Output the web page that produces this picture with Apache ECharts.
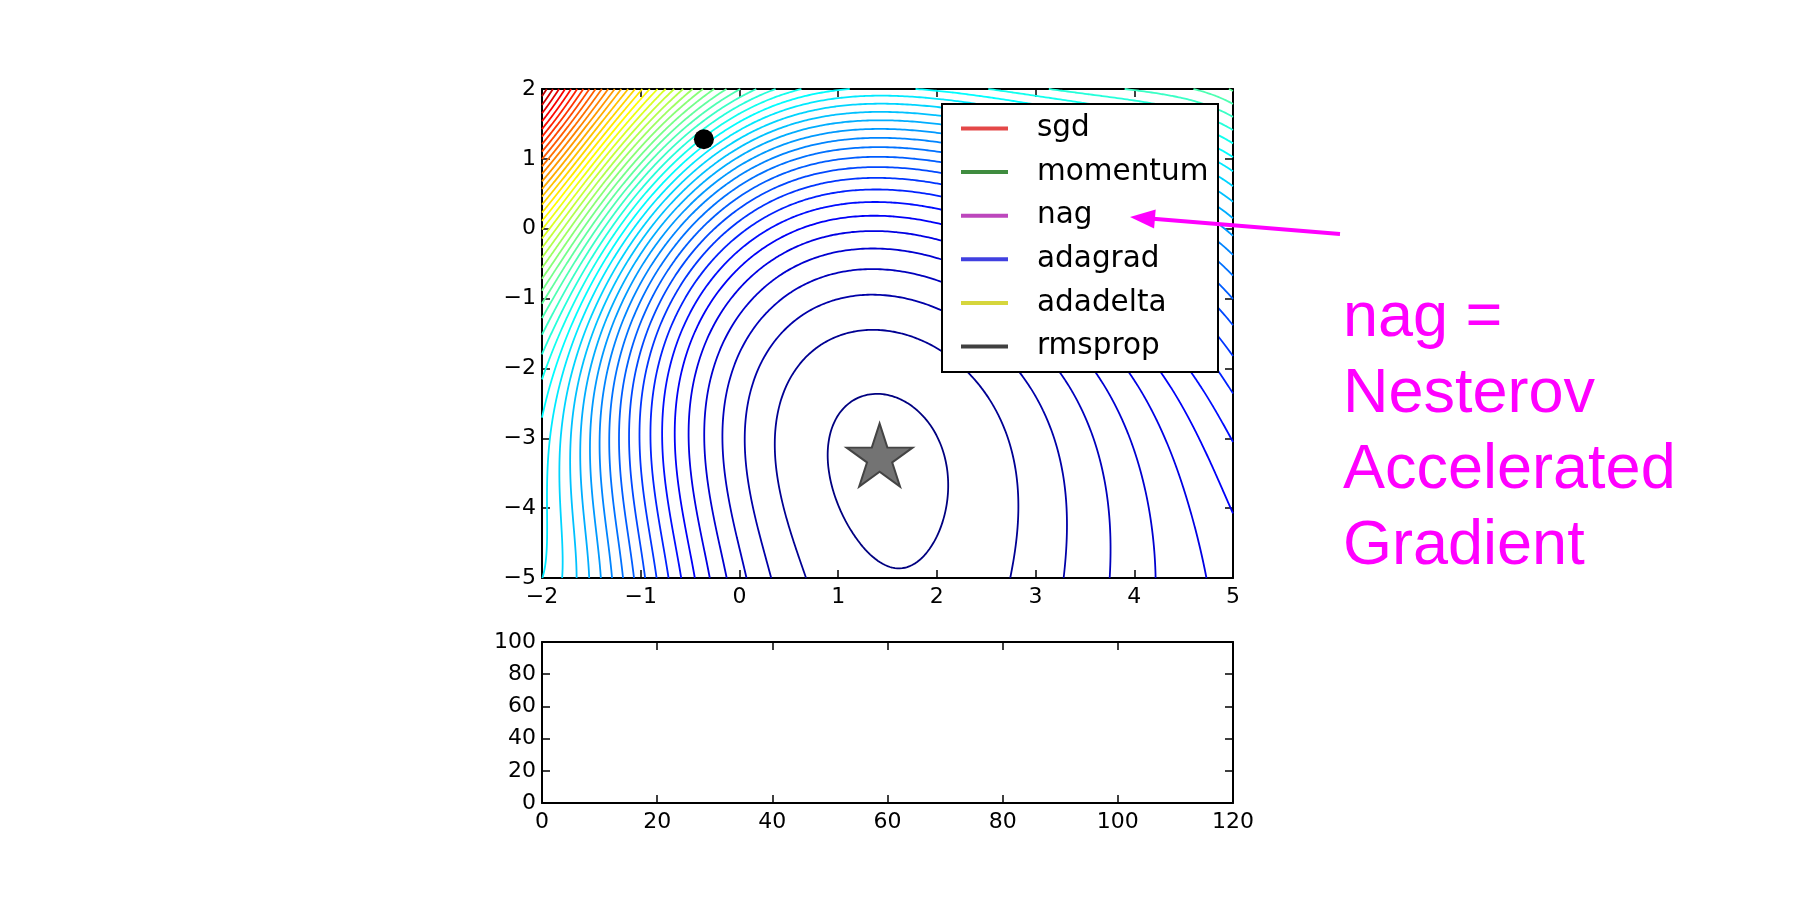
<!DOCTYPE html>
<html><head><meta charset="utf-8">
<script src="https://cdn.jsdelivr.net/npm/echarts@6/dist/echarts.min.js"></script>
<style>html,body{margin:0;padding:0;background:#fff;}#c{width:1820px;height:909px;}</style>
</head><body><div id="c"></div>
<script>
// ---------------- data ----------------
const xTicks = [-2, -1, 0, 1, 2, 3, 4, 5];
const yTicks = [-5, -4, -3, -2, -1, 0, 1, 2];
const lossXTicks = [0, 20, 40, 60, 80, 100, 120];
const lossYTicks = [0, 20, 40, 60, 80, 100];
const seriesNames = ['sgd', 'momentum', 'nag', 'adagrad', 'adadelta', 'rmsprop'];
const seriesColors = ['#e44848', '#3f8c3f', '#bd47bd', '#4040e0', '#d6d63c', '#404040'];
const startPoint = [-0.36, 1.28];
const minimumPoint = [1.42, -3.24];
const contourLevels = [1,2,3,4,5,6,7,8,9,10,11,12,13,14,15,16,17,18,19,20,21,22,23,24,25,
  26,27,28,29,30,31,32,33,34,35,36,37,38,39,40,41,42,43,44,45,46,47,48,49,50];
const annotationLines = ['nag =', 'Nesterov', 'Accelerated', 'Gradient'];

// contour crossings (x, y -> level index)
const minimumLevel = 0.5;
const ellipseLevel1 = [[0.79,-3.2],[0.92,-4.17],[1.15,-4.6],[1.55,-4.71],[2.0,-4.22],[2.07,-3.75],[1.76,-2.45],[1.3,-2.1],[0.88,-2.6]];
const rowBottomY = -5;
const rowBottomLeftX = [0.75,0.39,0.13,-0.09,-0.28,-0.47,-0.61,-0.74,-0.88,-0.99,-1.11,-1.22,-1.34,-1.44,-1.55,-1.67,-1.77,-1.87,-1.97]; // levels 2..20
const rowBottomRightX = [2.72,3.31,3.80,4.25,4.67]; // levels 2..6
const rowLowY = -4.1;
const rowLowLeftX = [0.58,0.27,0.03,-0.19,-0.37,-0.54,-0.68,-0.80,-0.93,-1.04,-1.16,-1.28,-1.39,-1.49,-1.60,-1.72,-1.82,-1.92]; // levels 2..19
const rowLowRightX = [2.73,3.28,3.74,4.18,4.59]; // levels 2..6
const rowMidY = -3.17;
const rowMidLeftX = [0.41,0.14,-0.08,-0.28,-0.45,-0.60,-0.74,-0.86,-0.98,-1.09,-1.21,-1.33,-1.43,-1.54,-1.65,-1.77,-1.87,-1.97]; // levels 2..19
const rowMidRightX = [2.74,3.25,3.68,4.11,4.51]; // levels 2..6
const rowUpperY = -2.17;
const rowUpperRightX = [2.24,2.71,3.11,3.52,3.96]; // levels 2..6
const columnX = 1.15;
const columnY = [-1.34,-0.85,-0.54,-0.30,-0.10]; // levels 2..6
const rightEdgeX = 5;
const rightEdgeY = [-4.41,-3.19,-2.45,-1.9,-1.4,-0.95,-0.63,-0.35,-0.09,0.15,0.39,0.62,0.84,1.04,1.23,1.41,1.58,1.75,1.91]; // levels 7..25
const topEdgeY = 2;
const topEdgeX = [-2,-1.8,-1.5,-1,-0.5,0,0.5,1.15,2.5,3.5,4.5];
const topEdgeLevel = [50,47,42,34,27,23.5,21.5,21,21,22,23.5];
const leftEdgeX = -2;
const leftEdgeY = [-2,-1,0,1];
const leftEdgeLevel = [22,26,32,40];
const startLevel = 22;

// ---------------- smooth surface fitted through the observations ----------------
const obs = [];
obs.push([minimumPoint[0], minimumPoint[1], minimumLevel, 6]);
ellipseLevel1.forEach(p => obs.push([p[0], p[1], 1, 6]));
rowBottomLeftX.forEach((x, i) => obs.push([x, rowBottomY, i + 2, 1]));
rowBottomRightX.forEach((x, i) => obs.push([x, rowBottomY, i + 2, 2]));
rowLowLeftX.forEach((x, i) => obs.push([x, rowLowY, i + 2, 1]));
rowLowRightX.forEach((x, i) => obs.push([x, rowLowY, i + 2, 2]));
rowMidLeftX.forEach((x, i) => obs.push([x, rowMidY, i + 2, 1]));
rowMidRightX.forEach((x, i) => obs.push([x, rowMidY, i + 2, 2]));
rowUpperRightX.forEach((x, i) => obs.push([x, rowUpperY, i + 2, 2]));
columnY.forEach((y, i) => obs.push([columnX, y, i + 2, 2]));
rightEdgeY.forEach((y, i) => obs.push([rightEdgeX, y, i + 7, 1]));
topEdgeX.forEach((x, i) => obs.push([x, topEdgeY, topEdgeLevel[i], 1]));
leftEdgeY.forEach((y, i) => obs.push([leftEdgeX, y, leftEdgeLevel[i], 1]));
obs.push([startPoint[0], startPoint[1], startLevel, 1]);

const OFFSET = 1.5;            // surface is fitted as sqrt(level + OFFSET)
const DEG = 5;
const powers = [];
for (let a = 0; a <= DEG; a++) for (let b = 0; b <= DEG - a; b++) powers.push([a, b]);
function basis(x, y) {
  const u = (x - 1.5) / 3.5, v = (y + 1.5) / 3.5;
  return powers.map(p => Math.pow(u, p[0]) * Math.pow(v, p[1]));
}
function solve(M, rhs) {
  const n = rhs.length;
  for (let c = 0; c < n; c++) {
    let p = c;
    for (let r = c + 1; r < n; r++) if (Math.abs(M[r][c]) > Math.abs(M[p][c])) p = r;
    [M[c], M[p]] = [M[p], M[c]]; [rhs[c], rhs[p]] = [rhs[p], rhs[c]];
    for (let r = c + 1; r < n; r++) {
      const f = M[r][c] / M[c][c];
      for (let k = c; k < n; k++) M[r][k] -= f * M[c][k];
      rhs[r] -= f * rhs[c];
    }
  }
  const s = new Array(n).fill(0);
  for (let r = n - 1; r >= 0; r--) {
    let acc = rhs[r];
    for (let k = r + 1; k < n; k++) acc -= M[r][k] * s[k];
    s[r] = acc / M[r][r];
  }
  return s;
}
const nB = powers.length;
const MtM = Array.from({length: nB}, () => new Array(nB).fill(0));
const Mtf = new Array(nB).fill(0);
obs.forEach(o => {
  const g = Math.sqrt(o[2] + OFFSET);
  const b = basis(o[0], o[1]), w = o[3] * 2 * g;
  for (let i = 0; i < nB; i++) { Mtf[i] += w * b[i] * g; for (let j = 0; j < nB; j++) MtM[i][j] += w * b[i] * b[j]; }
});
powers.forEach((p, i) => { const d = p[0] + p[1]; MtM[i][i] += 1e-3 * d * d; });
const coef = solve(MtM, Mtf);
function surf(x, y) { const b = basis(x, y); let s = 0; for (let i = 0; i < nB; i++) s += coef[i] * b[i]; return s * s - OFFSET; }

// ---------------- marching squares ----------------
const NX = 281, NY = 281, X0 = -2, X1 = 5, Y0 = -5, Y1 = 2;
const gx = [], gy = [];
for (let i = 0; i < NX; i++) gx.push(X0 + (X1 - X0) * i / (NX - 1));
for (let j = 0; j < NY; j++) gy.push(Y0 + (Y1 - Y0) * j / (NY - 1));
const Z = gy.map(y => gx.map(x => surf(x, y)));

function contour(L) {
  const pts = new Map(), adj = new Map();
  function ptH(i, j) { const k = 'h' + i + '_' + j; if (!pts.has(k)) { const a = Z[j][i], b = Z[j][i + 1], t = (L - a) / (b - a); pts.set(k, [gx[i] + t * (gx[i + 1] - gx[i]), gy[j]]); } return k; }
  function ptV(i, j) { const k = 'v' + i + '_' + j; if (!pts.has(k)) { const a = Z[j][i], b = Z[j + 1][i], t = (L - a) / (b - a); pts.set(k, [gx[i], gy[j] + t * (gy[j + 1] - gy[j])]); } return k; }
  function link(a, b) { if (!adj.has(a)) adj.set(a, []); if (!adj.has(b)) adj.set(b, []); adj.get(a).push(b); adj.get(b).push(a); }
  for (let j = 0; j < NY - 1; j++) for (let i = 0; i < NX - 1; i++) {
    const c0 = Z[j][i] > L, c1 = Z[j][i + 1] > L, c2 = Z[j + 1][i + 1] > L, c3 = Z[j + 1][i] > L;
    const idx = (c0 ? 1 : 0) | (c1 ? 2 : 0) | (c2 ? 4 : 0) | (c3 ? 8 : 0);
    if (idx === 0 || idx === 15) continue;
    const B = () => ptH(i, j), T = () => ptH(i, j + 1), Lf = () => ptV(i, j), R = () => ptV(i + 1, j);
    const center = (Z[j][i] + Z[j][i + 1] + Z[j + 1][i + 1] + Z[j + 1][i]) / 4 > L;
    switch (idx) {
      case 1: case 14: link(B(), Lf()); break;
      case 2: case 13: link(B(), R()); break;
      case 3: case 12: link(Lf(), R()); break;
      case 4: case 11: link(R(), T()); break;
      case 6: case 9: link(B(), T()); break;
      case 7: case 8: link(Lf(), T()); break;
      case 5: if (center) { link(B(), R()); link(T(), Lf()); } else { link(B(), Lf()); link(R(), T()); } break;
      case 10: if (center) { link(B(), Lf()); link(R(), T()); } else { link(B(), R()); link(T(), Lf()); } break;
    }
  }
  const seen = new Set(), lines = [];
  function walk(start) {
    const line = [pts.get(start)]; seen.add(start);
    let prev = null, cur = start;
    while (true) {
      const nb = adj.get(cur).filter(k => k !== prev && !seen.has(k));
      if (!nb.length) {
        if (adj.get(cur).includes(start) && cur !== start && line.length > 2) line.push(pts.get(start));
        break;
      }
      prev = cur; cur = nb[0]; seen.add(cur); line.push(pts.get(cur));
    }
    return line;
  }
  adj.forEach((v, k) => { if (v.length === 1 && !seen.has(k)) lines.push(walk(k)); });
  adj.forEach((v, k) => { if (!seen.has(k)) lines.push(walk(k)); });
  return lines;
}
function jet(t) {
  t = Math.max(0, Math.min(1, t));
  const cl = v => Math.round(255 * Math.max(0, Math.min(1, v)));
  return 'rgb(' + cl(1.5 - Math.abs(4 * t - 3)) + ',' + cl(1.5 - Math.abs(4 * t - 2)) + ',' + cl(1.5 - Math.abs(4 * t - 1)) + ')';
}
const lvlMin = contourLevels[0], lvlMax = contourLevels[contourLevels.length - 1];
const contourData = [];
contourLevels.forEach(L => {
  const col = jet((L - lvlMin) / (lvlMax - lvlMin + 2));
  contour(L).forEach(line => { if (line.length > 1) contourData.push({coords: line, lineStyle: {color: col}}); });
});

// ---------------- chart ----------------
const FONT = 'DejaVu Sans';
const minus = v => String(v).replace('-', '\u2212');
function axisCommon(extra) {
  return Object.assign({
    type: 'value',
    axisLine: {show: true, onZero: false, lineStyle: {color: '#000', width: 2}},
    axisTick: {show: true, inside: true, length: 8, lineStyle: {color: '#000', width: 1.5}},
    splitLine: {show: false},
    axisLabel: {show: true, color: '#000', fontFamily: FONT, fontSize: 22, formatter: minus}
  }, extra);
}
const noLabel = {show: false};
const chart = echarts.init(document.getElementById('c'), null, {renderer: 'canvas'});
const option = {
  animation: false,
  backgroundColor: '#fff',
  grid: [
    {left: 542, top: 89, width: 691, height: 489},
    {left: 542, top: 642, width: 691, height: 161}
  ],
  xAxis: [
    axisCommon({gridIndex: 0, min: xTicks[0], max: xTicks[xTicks.length - 1], interval: 1, position: 'bottom', axisLabel: {color: '#000', fontFamily: FONT, fontSize: 22, margin: 8, formatter: minus}}),
    axisCommon({gridIndex: 0, min: xTicks[0], max: xTicks[xTicks.length - 1], interval: 1, position: 'top', axisLabel: noLabel}),
    axisCommon({gridIndex: 1, min: lossXTicks[0], max: lossXTicks[lossXTicks.length - 1], interval: 20, position: 'bottom', axisLabel: {color: '#000', fontFamily: FONT, fontSize: 22, margin: 8}}),
    axisCommon({gridIndex: 1, min: lossXTicks[0], max: lossXTicks[lossXTicks.length - 1], interval: 20, position: 'top', axisLabel: noLabel})
  ],
  yAxis: [
    axisCommon({gridIndex: 0, min: yTicks[0], max: yTicks[yTicks.length - 1], interval: 1, position: 'left', axisLabel: {color: '#000', fontFamily: FONT, fontSize: 22, margin: 6, formatter: minus}}),
    axisCommon({gridIndex: 0, min: yTicks[0], max: yTicks[yTicks.length - 1], interval: 1, position: 'right', axisLabel: noLabel}),
    axisCommon({gridIndex: 1, min: lossYTicks[0], max: lossYTicks[lossYTicks.length - 1], interval: 20, position: 'left', axisLabel: {color: '#000', fontFamily: FONT, fontSize: 22, margin: 6}}),
    axisCommon({gridIndex: 1, min: lossYTicks[0], max: lossYTicks[lossYTicks.length - 1], interval: 20, position: 'right', axisLabel: noLabel})
  ],
  legend: {
    data: seriesNames, orient: 'vertical', left: 961, top: 113.5, padding: 0, itemGap: 13.6,
    icon: 'rect', itemWidth: 47, itemHeight: 4, z: 100, selectedMode: false,
    textStyle: {fontFamily: FONT, fontSize: 29.5, color: '#000', padding: [0, 0, 0, 24]}
  },
  graphic: [
    {type: 'rect', z: 90, shape: {x: 942, y: 104, width: 276, height: 268}, style: {fill: '#fff', stroke: '#000', lineWidth: 2}},
    {type: 'line', z: 95, shape: {x1: 1340, y1: 234, x2: 1150, y2: 218.6}, style: {stroke: '#ff00ff', lineWidth: 4}},
    {type: 'polygon', z: 95, shape: {points: [[1130, 217], [1155.7, 209.5], [1154.1, 228.5]]}, style: {fill: '#ff00ff'}},
    {type: 'text', z: 95, left: 1343, top: 281, style: {text: annotationLines.join('\n'), fill: '#ff00ff', font: '63px "Liberation Sans", Arial, sans-serif', lineHeight: 76}}
  ],
  series: [
    {type: 'lines', coordinateSystem: 'cartesian2d', xAxisIndex: 0, yAxisIndex: 0, polyline: true, silent: true, z: 2,
      lineStyle: {width: 1.8, opacity: 1}, data: contourData},
    {type: 'scatter', xAxisIndex: 0, yAxisIndex: 0, z: 10, silent: true, symbol: 'circle', symbolSize: 20,
      itemStyle: {color: '#000', opacity: 1}, data: [startPoint]},
    {type: 'scatter', xAxisIndex: 0, yAxisIndex: 0, z: 10, silent: true,
      symbol: 'path://M0,-1L0.2245,-0.309L0.951,-0.309L0.363,0.118L0.588,0.809L0,0.382L-0.588,0.809L-0.363,0.118L-0.951,-0.309L-0.2245,-0.309Z',
      symbolSize: [66, 63], itemStyle: {color: '#737373', borderColor: '#444', borderWidth: 2, opacity: 1}, data: [minimumPoint]},
    {type: 'scatter', xAxisIndex: 2, yAxisIndex: 2, data: []}
  ].concat(seriesNames.map((n, i) => ({
    type: 'line', name: n, xAxisIndex: 2, yAxisIndex: 2, data: [], color: seriesColors[i],
    itemStyle: {color: seriesColors[i]}, lineStyle: {color: seriesColors[i], width: 4}
  })))
};
chart.setOption(option);
</script></body></html>
